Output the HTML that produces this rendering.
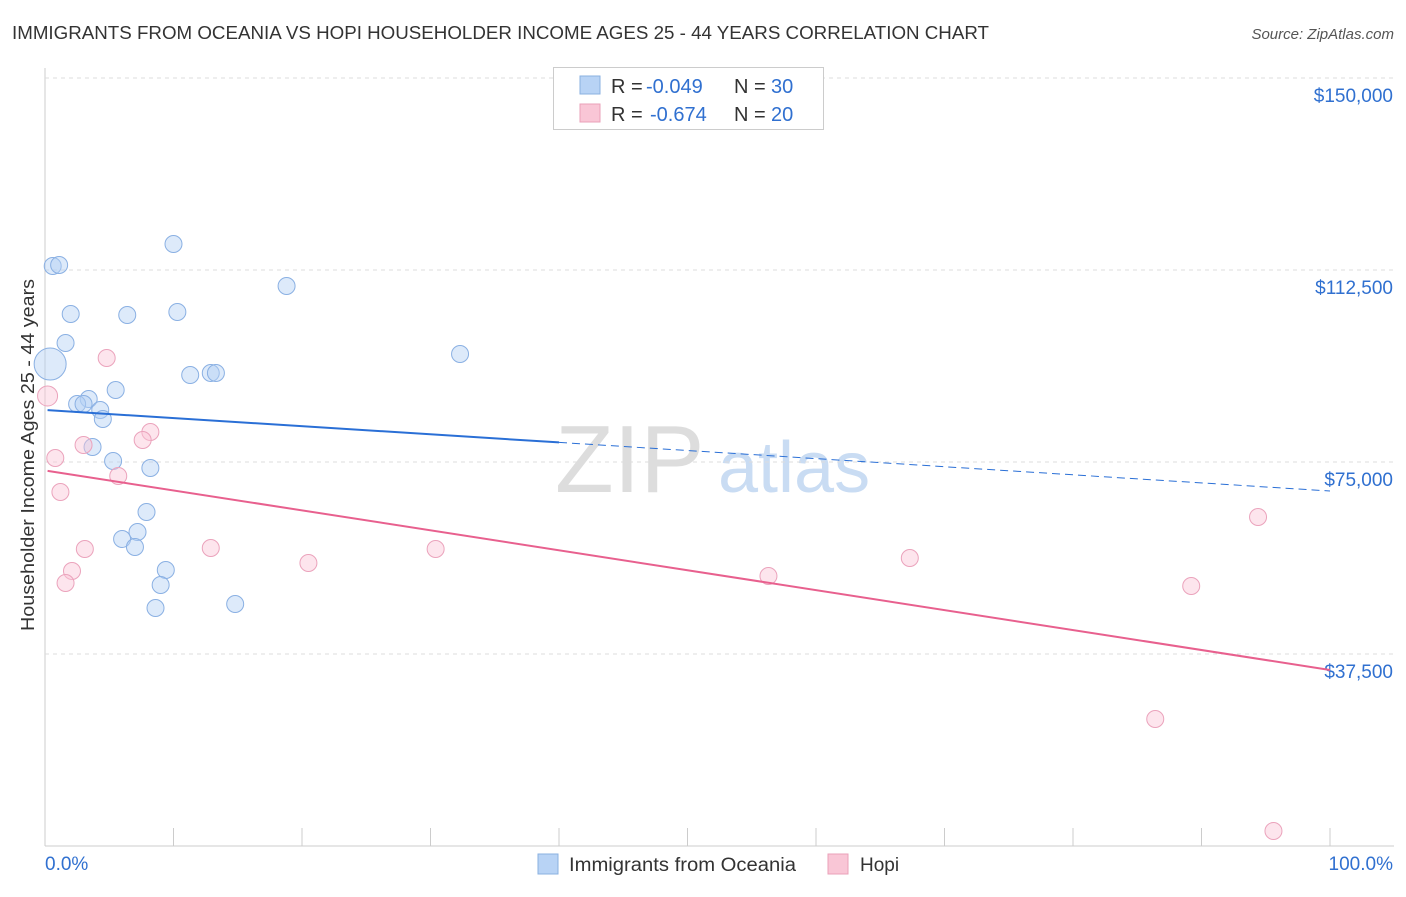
<!DOCTYPE html>
<html><head><meta charset="utf-8"><style>
body{margin:0;background:#fff;font-family:"Liberation Sans",sans-serif;}
svg text{font-family:"Liberation Sans",sans-serif;}
</style></head><body>
<svg id="c" width="1406" height="892">
<text x="12" y="39" font-size="18" fill="#333" textLength="977" lengthAdjust="spacingAndGlyphs">IMMIGRANTS FROM OCEANIA VS HOPI HOUSEHOLDER INCOME AGES 25 - 44 YEARS CORRELATION CHART</text>
<text x="1394" y="39" font-size="15" fill="#555" font-style="italic" text-anchor="end">Source: ZipAtlas.com</text>
<text x="34" y="455" font-size="18" fill="#333" text-anchor="middle" textLength="352" lengthAdjust="spacingAndGlyphs" transform="rotate(-90 34 455)">Householder Income Ages 25 - 44 years</text>
<g><text x="555" y="492" font-size="96" fill="#ddd" font-family="Liberation Serif">ZIP</text><text x="718" y="492" font-size="72" fill="#c9dcf3">atlas</text></g>
<g id="grid"></g><g id="marks"></g>
<g>
<rect x="553.5" y="67.5" width="270" height="62" fill="#fff" stroke="#ccc"/>
<rect x="580" y="76" width="20" height="18" fill="#b8d3f5" stroke="#8ab0e0"/>
<rect x="580" y="104" width="20" height="18" fill="#f9c6d6" stroke="#eaa0b8"/>
<g font-size="20">
<text x="611" y="93" fill="#333">R =</text><text x="646" y="93" fill="#3070d0">-0.049</text>
<text x="734" y="93" fill="#333">N =</text><text x="771" y="93" fill="#3070d0">30</text></g>
<g font-size="20">
<text x="611" y="121" fill="#333">R =</text><text x="650" y="121" fill="#3070d0">-0.674</text>
<text x="734" y="121" fill="#333">N =</text><text x="771" y="121" fill="#3070d0">20</text></g>
</g>
<g>
<rect x="538" y="854" width="20" height="20" fill="#b8d3f5" stroke="#8ab0e0"/>
<text x="569" y="871" font-size="19" fill="#333" textLength="227" lengthAdjust="spacingAndGlyphs">Immigrants from Oceania</text>
<rect x="828" y="854" width="20" height="20" fill="#f9c6d6" stroke="#eaa0b8"/>
<text x="860" y="871" font-size="19" fill="#333">Hopi</text>
</g>
</svg>
<script>
const yTicks=[37500,75000,112500,150000];
const yTickLabels=["$37,500","$75,000","$112,500","$150,000"];
const blueX=[0.6,1.1,2.0,1.6,0.4,6.4,10.0,10.3,18.8,11.3,12.9,13.3,32.3,5.5,3.4,2.5,3.0,4.3,4.5,3.7,5.3,8.2,7.9,7.2,6.0,7.0,9.4,9.0,8.6,14.8];
const blueY=[113270,113470,103900,98240,94130,103700,117570,104290,109370,91990,92380,92380,96090,89060,87300,86320,86320,85150,83390,77920,75190,73820,65230,61320,59960,58390,53900,50970,46480,47260];
const pinkX=[0.2,0.8,1.2,3.0,4.8,8.2,7.6,5.7,3.1,2.1,1.6,12.9,20.5,30.4,56.3,67.3,89.2,94.4,86.4,95.6];
const pinkY=[87890,75780,69140,78320,95310,80850,79290,72260,58000,53710,51360,58200,55270,58000,52730,56250,50780,64250,24800,2930];
const blueTrend=[85150,69330];
const pinkTrend=[73260,34380];
const X=p=>45+p*12.85, Y=v=>846-v/195.3;
const NS="http://www.w3.org/2000/svg";
function mk(t,a,parent){const e=document.createElementNS(NS,t);for(const k in a)e.setAttribute(k,a[k]);document.getElementById(parent).appendChild(e);return e;}
mk('line',{x1:45,y1:68,x2:45,y2:846,stroke:'#ccc'},'grid');
mk('line',{x1:45,y1:846,x2:1394,y2:846,stroke:'#ccc'},'grid');
for(let i=0;i<=10;i++){const l=mk('line',{x1:X(i*10),x2:X(i*10),y1:828,y2:846,stroke:'#ccc'},'grid');

}
yTicks.forEach((v,i)=>{const l=mk('line',{x1:45,x2:1394,y1:Y(v),y2:Y(v),stroke:'#ddd','stroke-dasharray':'4,4'},'grid');


const t=mk('text',{x:1393,y:Y(v)+24,'font-size':19,fill:'#3070d0','text-anchor':'end'},'grid');t.textContent=yTickLabels[i];

});
const t0=mk('text',{x:45,y:870,'font-size':19,fill:'#3070d0'},'grid');t0.textContent='0.0%';


const t1=mk('text',{x:1393,y:870,'font-size':19,fill:'#3070d0','text-anchor':'end'},'grid');t1.textContent='100.0%';


blueX.forEach((x,i)=>{const c=mk('circle',{cx:X(x),cy:Y(blueY[i]),r:i==4?16:8.5,fill:'rgba(180,208,245,0.45)',stroke:'#8ab0e3','stroke-width':1},'marks');

});
pinkX.forEach((x,i)=>{const c=mk('circle',{cx:X(x),cy:Y(pinkY[i]),r:i==0?10:8.5,fill:'rgba(250,198,216,0.45)',stroke:'#eba3bc','stroke-width':1},'marks');

});
const bAt=p=>blueTrend[0]+(blueTrend[1]-blueTrend[0])*p/100;
const b1=mk('line',{x1:X(0.2),y1:Y(bAt(0.2)),x2:X(40),y2:Y(bAt(40)),stroke:'#2a6fd6','stroke-width':2},'marks');


const b2=mk('line',{x1:X(40),y1:Y(bAt(40)),x2:X(100),y2:Y(bAt(100)),stroke:'#2a6fd6','stroke-width':1,'stroke-dasharray':'8,5'},'marks');


const p1=mk('line',{x1:X(0.2),y1:Y(pinkTrend[0]),x2:X(100),y2:Y(pinkTrend[1]),stroke:'#e8608e','stroke-width':2},'marks');


</script>
</body></html>
